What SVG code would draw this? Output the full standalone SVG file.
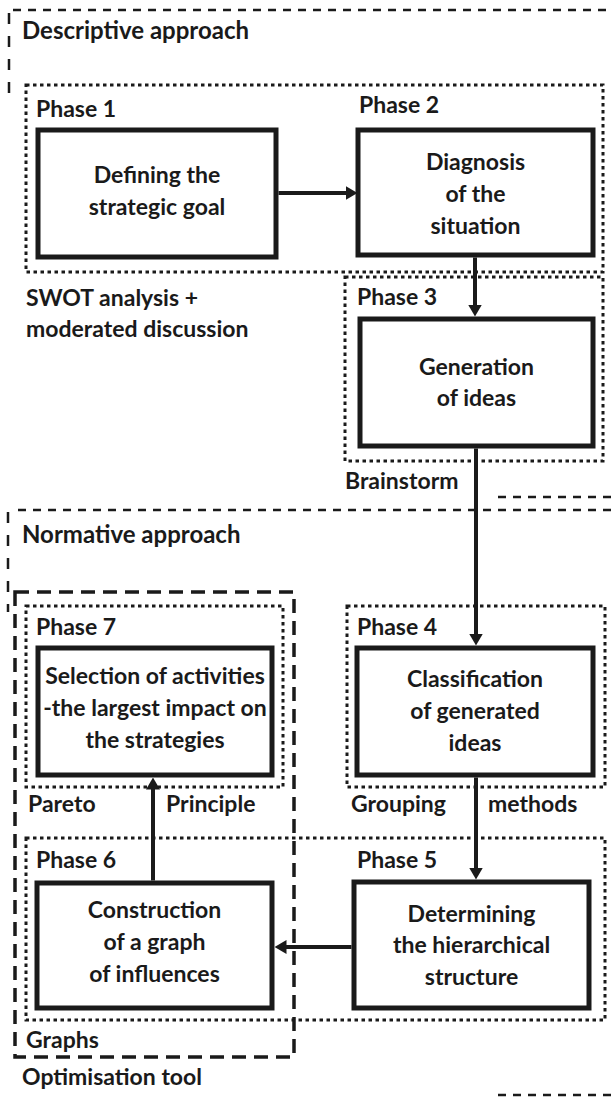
<svg xmlns="http://www.w3.org/2000/svg" width="612" height="1098" viewBox="0 0 612 1098">
<style>
text{font-family:Lato,"Liberation Sans",Arial,sans-serif;font-weight:bold;font-size:23px;fill:#1a1a1a}
.t{font-size:24px}
.c{text-anchor:middle}
.box{fill:#fff;stroke:#1a1a1a;stroke-width:5}
.dot{fill:none;stroke:#1a1a1a;stroke-width:3;stroke-dasharray:3.5 3.5}
.dh{fill:none;stroke:#1a1a1a;stroke-width:2.5;stroke-dasharray:8 7}
.dv{fill:none;stroke:#1a1a1a;stroke-width:2.5;stroke-dasharray:11 12}
.opt{fill:none;stroke:#1a1a1a;stroke-width:3.5;stroke-dasharray:14 8}
.arr{fill:none;stroke:#1a1a1a;stroke-width:4;marker-end:url(#ah)}
</style>
<defs>
<marker id="ah" viewBox="0 0 12 14" refX="2" refY="7" markerWidth="12" markerHeight="14" markerUnits="userSpaceOnUse" orient="auto">
<path d="M0,0 L12,7 L0,14 Z" fill="#1a1a1a"/>
</marker>
</defs>
<rect width="612" height="1098" fill="#fff"/>

<g id="descriptive-approach">
<path class="dh" d="M13,10 H612"/>
<path class="dv" d="M9,13 V95"/>
<path class="dh" d="M498,497 H612"/>
<text class="t" x="22" y="39">Descriptive approach</text>
</g>

<g id="normative-approach">
<path class="dh" d="M18,510 H612"/>
<path class="dv" d="M8,512 V612"/>
<path class="dh" d="M498,1095 H612"/>
<text class="t" x="22" y="543">Normative approach</text>
</g>

<g id="optimisation-tool">
<rect class="opt" x="15" y="592" width="279" height="465"/>
<text x="22" y="1085">Optimisation tool</text>
</g>

<g id="swot-group">
<rect class="dot" x="26" y="85" width="577" height="187"/>
<text x="26" y="306">SWOT analysis +</text>
<text x="26" y="337">moderated discussion</text>
</g>

<g id="brainstorm-group">
<rect class="dot" x="345" y="277" width="258" height="184"/>
<text x="345" y="489">Brainstorm</text>
</g>

<g id="pareto-group">
<rect class="dot" x="26" y="606" width="257" height="181"/>
<text x="28" y="812">Pareto</text>
<text x="166" y="812">Principle</text>
</g>

<g id="grouping-group">
<rect class="dot" x="347" y="606" width="258" height="181"/>
<text x="351" y="812">Grouping</text>
<text x="488" y="812">methods</text>
</g>

<g id="graphs-group">
<rect class="dot" x="26" y="838" width="579" height="182"/>
<text x="26" y="1048">Graphs</text>
</g>

<g id="phase1">
<text x="36" y="117">Phase 1</text>
<rect class="box" x="38" y="130" width="238" height="127"/>
<text class="c" x="157" y="183">Defining the</text>
<text class="c" x="157" y="215">strategic goal</text>
</g>

<g id="phase2">
<text x="359" y="113">Phase 2</text>
<rect class="box" x="358" y="130" width="235" height="125"/>
<text class="c" x="475.5" y="170">Diagnosis</text>
<text class="c" x="475.5" y="202">of the</text>
<text class="c" x="475.5" y="234">situation</text>
</g>

<g id="phase3">
<text x="357" y="305">Phase 3</text>
<rect class="box" x="360" y="319" width="233" height="127"/>
<text class="c" x="476.5" y="375">Generation</text>
<text class="c" x="476.5" y="406">of ideas</text>
</g>

<g id="phase4">
<text x="357" y="635">Phase 4</text>
<rect class="box" x="357" y="648" width="236" height="127"/>
<text class="c" x="475" y="687">Classification</text>
<text class="c" x="475" y="719">of generated</text>
<text class="c" x="475" y="751">ideas</text>
</g>

<g id="phase5">
<text x="357" y="868">Phase 5</text>
<rect class="box" x="354" y="882" width="235" height="126"/>
<text class="c" x="471.5" y="922">Determining</text>
<text class="c" x="471.5" y="953">the hierarchical</text>
<text class="c" x="471.5" y="985">structure</text>
</g>

<g id="phase6">
<text x="36" y="868">Phase 6</text>
<rect class="box" x="37" y="883" width="235" height="125"/>
<text class="c" x="154.5" y="918">Construction</text>
<text class="c" x="154.5" y="950">of a graph</text>
<text class="c" x="154.5" y="982">of influences</text>
</g>

<g id="phase7">
<text x="36" y="635">Phase 7</text>
<rect class="box" x="38" y="648" width="234" height="127"/>
<text class="c" x="155" y="684">Selection of activities</text>
<text class="c" x="155" y="716">-the largest impact on</text>
<text class="c" x="155" y="748">the strategies</text>
</g>

<g id="connectors">
<path class="arr" d="M278.5,193 H347.5"/>
<path class="arr" d="M475,257.5 V306.5"/>
<path class="arr" d="M476,448.5 V635.5"/>
<path class="arr" d="M476,777.5 V869.5"/>
<path class="arr" d="M351.5,947 H284.5"/>
<path class="arr" d="M153,880.5 V787.5"/>
</g>
</svg>
